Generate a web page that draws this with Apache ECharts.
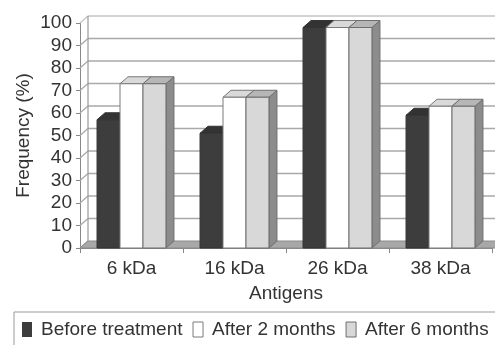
<!DOCTYPE html>
<html>
<head>
<meta charset="utf-8">
<script src="https://cdn.jsdelivr.net/npm/echarts@6/dist/echarts.min.js"></script>
<style>
  html, body { margin: 0; padding: 0; background: #fff; }
  #chart { width: 495px; height: 345px; }
</style>
</head>
<body>
<div id="chart"></div>
<script>
const categories = ['6 kDa', '16 kDa', '26 kDa', '38 kDa'];
const beforeTreatment = [57, 51, 98, 59];
const after2Months = [73, 67, 98, 63];
const after6Months = [73, 67, 98, 63];
const yTicks = [0, 10, 20, 30, 40, 50, 60, 70, 80, 90, 100];

// depth of the fake 3d
const DX = 8, DY = 7;
const font = 'Liberation Sans, Arial, sans-serif';

const chart = echarts.init(document.getElementById('chart'));

function wallItem(params, api) {
  const v = api.value(1);
  const cs = params.coordSys;
  const y = api.coord([0, v])[1];
  const left = cs.x, right = cs.x + cs.width;
  const kids = [];
  const line = { stroke: v === 100 ? '#c4c4c4' : '#a9a9a9', lineWidth: 1.3 };
  kids.push({ type: 'line', shape: { x1: left, y1: y, x2: left + DX, y2: y - DY }, style: line });
  if (v > 0) {
    kids.push({ type: 'line', shape: { x1: left + DX, y1: y - DY, x2: right + DX + 10, y2: y - DY }, style: line });
  }
  if (v === 100) {
    kids.push({ type: 'line', shape: { x1: left + DX, y1: y - DY, x2: left + DX, y2: cs.y + cs.height - DY }, style: { stroke: '#999', lineWidth: 1.2 } });
  }
  if (v === 0) {
    kids.push({
      type: 'polygon',
      shape: { points: [[left, y], [right + 10, y], [right + 10 + DX, y - DY], [left + DX, y - DY]] },
      style: { fill: '#a8a8a8', stroke: '#8a8a8a', lineWidth: 1 }
    });
  }
  return { type: 'group', children: kids };
}

function barRenderer(k, colors) {
  return function (params, api) {
    const c = api.value(0);
    const top = api.coord([c, api.value(1)]);
    const base = api.coord([c, 0]);
    const band = api.size([1, 0])[0];
    const w = band * 0.223;
    const x = top[0] - 1.5 * w + k * w;
    const y0 = top[1], y1 = base[1];
    const stroke = colors.stroke;
    return {
      type: 'group',
      children: [
        { type: 'polygon', shape: { points: [[x + w, y0], [x + w + DX, y0 - DY], [x + w + DX, y1 - DY], [x + w, y1]] },
          style: { fill: colors.side, stroke: stroke, lineWidth: 1 } },
        { type: 'polygon', shape: { points: [[x, y0], [x + DX, y0 - DY], [x + w + DX, y0 - DY], [x + w, y0]] },
          style: { fill: colors.top, stroke: stroke, lineWidth: 1 } },
        { type: 'rect', shape: { x: x, y: y0, width: w, height: y1 - y0 },
          style: { fill: colors.front, stroke: stroke, lineWidth: 1 } }
      ]
    };
  };
}

const looks = [
  { front: '#3d3d3d', top: '#333333', side: '#2a2a2a', stroke: '#333333' },
  { front: '#ffffff', top: '#d9d9d9', side: '#bdbdbd', stroke: '#7a7a7a' },
  { front: '#d8d8d8', top: '#b6b6b6', side: '#8c8c8c', stroke: '#6e6e6e' }
];
const names = ['Before treatment', 'After 2 months', 'After 6 months'];
const seriesData = [beforeTreatment, after2Months, after6Months];

const barSeries = seriesData.map(function (vals, k) {
  return {
    name: names[k],
    type: 'custom',
    z: 3 + k,
    clip: false,
    itemStyle: { color: looks[k].front, borderColor: looks[k].stroke },
    encode: { x: 0, y: 1 },
    data: vals.map(function (v, i) { return [i, v]; }),
    renderItem: barRenderer(k, looks[k])
  };
});

const option = {
  animation: false,
  backgroundColor: '#fff',
  grid: { left: 80, right: 3, top: 23, bottom: 97 },
  xAxis: {
    type: 'category',
    data: categories,
    name: 'Antigens',
    nameLocation: 'middle',
    nameGap: 36,
    nameTextStyle: { fontSize: 19, color: '#333', fontFamily: font },
    axisLine: { lineStyle: { color: '#888', width: 1 } },
    axisTick: { show: true, length: 5, lineStyle: { color: '#888' } },
    axisLabel: { fontSize: 19, color: '#333', fontFamily: font, margin: 11 },
    splitLine: { show: false }
  },
  yAxis: {
    type: 'value',
    min: 0,
    max: 100,
    interval: 10,
    name: 'Frequency (%)',
    nameLocation: 'middle',
    nameGap: 47,
    nameMoveOverlap: false,
    nameTextStyle: { fontSize: 19, color: '#333', fontFamily: font },
    axisLine: { show: true, lineStyle: { color: '#888', width: 1 } },
    axisTick: { show: true, length: 4, lineStyle: { color: '#888' } },
    axisLabel: { fontSize: 19, color: '#333', fontFamily: font, margin: 8 },
    splitLine: { show: false }
  },
  legend: {
    left: 14,
    top: 312,
    width: 490,
    orient: 'horizontal',
    icon: 'rect',
    itemWidth: 10,
    itemHeight: 15,
    itemGap: 10,
    padding: [8, 20, 20, 8],
    borderColor: '#999',
    borderWidth: 1,
    textStyle: { fontSize: 19, color: '#333', fontFamily: font, padding: [0, 0, 0, 4] },
    data: names.map(function (n, k) {
      return { name: n, itemStyle: { color: looks[k].front, borderColor: looks[k].stroke, borderWidth: k === 0 ? 0 : 1 } };
    })
  },
  series: [
    {
      type: 'custom',
      z: 1,
      clip: false,
      silent: true,
      encode: { x: 0, y: 1 },
      data: yTicks.map(function (v) { return [0, v]; }),
      renderItem: wallItem
    }
  ].concat(barSeries)
};

chart.setOption(option);
</script>
</body>
</html>
